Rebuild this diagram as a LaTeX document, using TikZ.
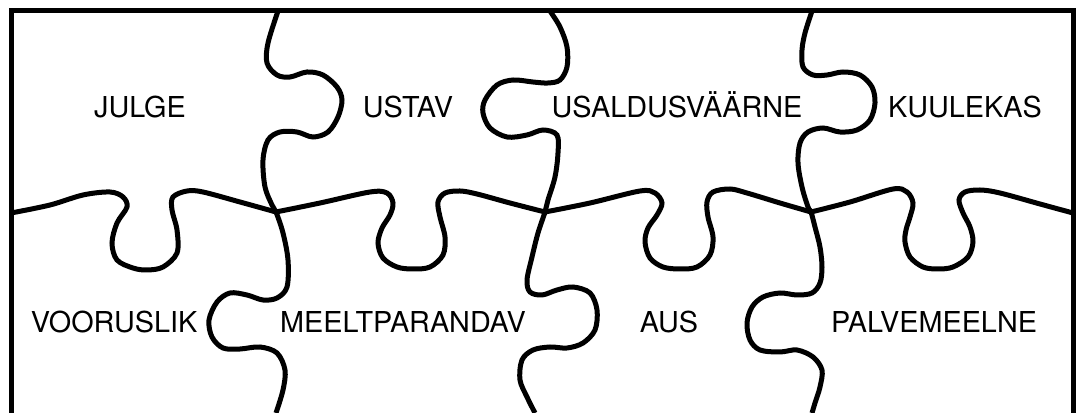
\documentclass[tikz,border=0pt]{standalone}
\usepackage{fontspec}
\setmainfont{TeX Gyre Heros}

\begin{document}
\begin{tikzpicture}[
    x=0.75pt,
    y=-0.75pt,
    frame/.style={line width=3.75pt,line join=miter},
    cut/.style={line width=3.75pt,line cap=butt,smooth,tension=0.55},
    word/.style={anchor=base,inner sep=0pt,font=\fontsize{21.6}{26}\selectfont}
]
\useasboundingbox (0,0) rectangle (1076,413);

% Frame
\draw[frame] (11,413) -- (11,11) -- (1073,11) -- (1073,413);

% Middle cut
\draw[cut] plot coordinates {(11,213) (50,205) (83,195) (110,192) (123,197) (127,207) (117,223) (112,243) (117,260) (133,268) (147,270) (163,267) (177,253) (177,230) (172,210) (173,197) (187,191) (203,192) (240,202) (276,212)}
    plot coordinates {(276,212) (320,203) (370,192) (387,193) (393,203) (390,215) (382,228) (378,243) (383,258) (397,267) (413,269) (430,267) (443,255) (445,237) (440,217) (438,202) (445,193) (460,191) (477,194) (510,203) (545,212)}
    plot coordinates {(545,212) (590,203) (640,191) (655,193) (662,203) (657,215) (648,228) (645,242) (650,258) (663,267) (680,269) (697,267) (710,255) (713,237) (708,217) (707,202) (713,192) (730,189) (747,193) (780,203) (811,212)}
    plot coordinates {(811,212) (850,202) (893,189) (907,192) (913,203) (910,217) (906,230) (905,242) (910,257) (923,267) (938,269) (953,267) (968,257) (973,242) (970,227) (963,213) (959,200) (965,192) (980,190) (1000,193) (1040,204) (1073,213)};

% Column cuts
\draw[cut] plot coordinates {(278,11) (268,43) (267,63) (277,75) (290,77) (307,72) (323,75) (337,87) (342,100) (338,117) (328,132) (313,137) (297,132) (280,132) (268,140) (263,160) (265,187) (272,205) (276,212) (283,233) (288,260) (287,287) (277,298) (263,300) (247,295) (230,293) (217,302) (209,320) (212,337) (223,348) (240,349) (260,347) (277,353) (285,370) (283,390) (276,413)};
\draw[cut] plot coordinates {(550,11) (560,27) (567,47) (567,67) (560,80) (548,83) (533,82) (513,80) (497,85) (485,100) (483,113) (490,128) (507,137) (527,135) (543,130) (557,135) (558,153) (555,177) (548,200) (545,212) (538,233) (532,257) (527,280) (530,292) (542,295) (557,290) (573,287) (590,293) (597,310) (595,330) (583,343) (567,348) (550,347) (533,350) (522,360) (520,380) (527,397) (535,413)};
\draw[cut] plot coordinates {(812,11) (805,33) (802,50) (803,67) (813,75) (827,75) (843,72) (860,75) (872,87) (875,103) (870,120) (857,130) (840,132) (823,128) (808,132) (800,143) (798,163) (802,187) (808,207) (811,212) (815,227) (820,247) (822,267) (820,283) (812,293) (797,295) (780,293) (763,297) (752,307) (747,323) (750,340) (760,350) (780,352) (797,350) (813,357) (822,370) (820,387) (815,403) (812,413)};

% Words
\node[word] (julge) at (140,118) {JULGE};
\node[word] (ustav) at (408,118) {USTAV};
\node[word] (usaldus) at (677,118) {USALDUSVÄÄRNE};
\node[word] (kuulekas) at (965,118) {KUULEKAS};
\node[word] (vooruslik) at (114,333) {VOORUSLIK};
\node[word] (meelt) at (403,333) {MEELTPARANDAV};
\node[word] (aus) at (669,333) {AUS};
\node[word] (palve) at (934,333) {PALVEMEELNE};

\end{tikzpicture}
\end{document}
